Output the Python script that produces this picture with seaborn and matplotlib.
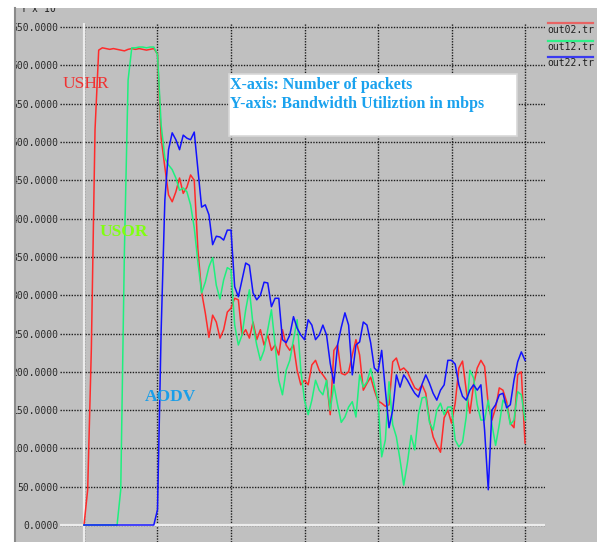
import numpy as np
import pandas as pd
import matplotlib
matplotlib.use("Agg")
import matplotlib.pyplot as plt
import seaborn as sns
from matplotlib.patches import Rectangle
from matplotlib.lines import Line2D

# sample positions along the x axis (one sample every 5 packets)
packets = np.arange(121) * 5

# bandwidth utilisation (Y x 10^-3 mbps) for each trace file
ushr = [0, 46, 230, 516, 620, 623, 622, 621, 622, 621,
        620, 619, 621, 622, 621, 622, 621, 620, 621, 622,
        615, 505, 467, 431, 422, 435, 453, 433, 441, 457,
        450, 359, 304, 277, 245, 274, 265, 244, 255, 278,
        283, 296, 294, 248, 255, 244, 265, 242, 255, 235,
        248, 228, 235, 222, 255, 235, 228, 235, 202, 183,
        189, 183, 209, 215, 202, 196, 189, 144, 228, 235,
        198, 196, 200, 222, 242, 222, 176, 185, 193, 176,
        162, 159, 155, 157, 213, 218, 202, 205, 200, 189,
        179, 176, 183, 172, 137, 115, 104, 95, 140, 150,
        133, 159, 205, 214, 176, 146, 183, 205, 215, 207,
        157, 137, 153, 179, 176, 161, 133, 127, 196, 200,
        107]

usor = [0, 0, 0, 0, 0, 0, 0, 0, 0, 0,
        46, 359, 581, 623, 623, 624, 624, 623, 624, 624,
        614, 522, 479, 470, 464, 453, 437, 440, 435, 418,
        388, 343, 303, 317, 337, 349, 313, 295, 320, 336,
        333, 261, 235, 248, 281, 307, 261, 235, 215, 228,
        255, 281, 235, 189, 170, 202, 215, 242, 268, 202,
        163, 144, 163, 189, 176, 170, 189, 150, 183, 157,
        134, 141, 154, 161, 141, 196, 180, 187, 204, 183,
        163, 89, 111, 187, 131, 115, 85, 52, 81, 117,
        98, 144, 166, 167, 134, 124, 150, 159, 144, 154,
        154, 111, 102, 108, 141, 202, 192, 157, 137, 137,
        163, 131, 104, 131, 163, 157, 131, 137, 174, 170,
        137]

aodv = [0, 0, 0, 0, 0, 0, 0, 0, 0, 0,
        0, 0, 0, 0, 0, 0, 0, 0, 0, 0,
        20, 255, 424, 490, 512, 503, 490, 509, 505, 503,
        513, 464, 415, 418, 405, 366, 377, 376, 372, 385,
        385, 311, 298, 320, 342, 339, 303, 294, 300, 317,
        316, 285, 296, 296, 242, 238, 248, 272, 257, 248,
        242, 268, 261, 242, 248, 261, 248, 211, 185, 235,
        258, 277, 261, 196, 235, 239, 265, 261, 238, 205,
        200, 228, 176, 127, 150, 196, 180, 196, 189, 180,
        172, 167, 184, 196, 185, 172, 163, 176, 183, 215,
        215, 210, 183, 168, 163, 176, 183, 176, 183, 124,
        46, 150, 157, 170, 172, 153, 157, 189, 213, 226,
        215]

trace_names = ["out02.tr", "out12.tr", "out22.tr"]
trace_colors = ["#ff2b2b", "#1ef07e", "#1212ff"]
legend_colors = ["#e86464", "#2ef088", "#3a3af0"]
protocol_labels = ["USHR", "USOR", "AODV"]
y_ticks = np.arange(0, 651, 50)
y_tick_labels = [f"{v:.4f}" for v in y_ticks]
x_grid = np.arange(0, 601, 100)

df = pd.concat([
    pd.DataFrame({"packets": packets, "bandwidth": vals, "trace": name})
    for name, vals in zip(trace_names, [ushr, usor, aodv])
], ignore_index=True)

GREY = "#c0c0c0"
W, H = 597, 542


def fx(px):
    return px / W


def fy(py):
    return 1 - py / H


fig = plt.figure(figsize=(W / 100, H / 100), dpi=100, facecolor="white")
fig.patches.append(Rectangle((fx(15), 0), 1, fy(8), transform=fig.transFigure,
                             facecolor=GREY, edgecolor="none", zorder=-10))

ax = fig.add_axes([fx(60), 0, fx(545) - fx(60), fy(23)])
ax.set_facecolor(GREY)

sns.lineplot(data=df, x="packets", y="bandwidth", hue="trace",
             hue_order=trace_names, palette=dict(zip(trace_names, trace_colors)),
             estimator=None, sort=False, legend=False, linewidth=1.1, ax=ax)

ax.set_xlim(-32.65, 627.2)
ax.set_ylim(-22.2, 655.4)
ax.set_xticks(x_grid)
ax.set_xticklabels([])
ax.set_yticks(y_ticks)
ax.set_yticklabels(y_tick_labels, family="DejaVu Sans Mono", fontsize=7, color="#2a2a2a")
ax.tick_params(length=0, pad=1)
ax.set_xlabel("")
ax.set_ylabel("")
for s in ax.spines.values():
    s.set_visible(False)
ax.set_axisbelow(True)
ax.grid(True, color="#1e1e1e", linestyle=(0, (1, 1)), linewidth=1.0)
ax.axhline(0, color="#ececec", linewidth=1.6, zorder=1.5)
ax.axvline(0, color="#ececec", linewidth=1.6, zorder=1.5)

# protocol names next to their curves
ax.text(-28.6, 576, protocol_labels[0], color="#f03232", family="Liberation Serif",
        fontsize=12.5, va="center", ha="left")
ax.text(21.8, 382, protocol_labels[1], color="#80ff10", family="Liberation Serif",
        fontsize=12.5, fontweight="bold", va="center", ha="left")
ax.text(83, 167, protocol_labels[2], color="#1a9ee8", family="Liberation Serif",
        fontsize=12.5, fontweight="bold", va="center", ha="left")

# axis description box
fig.patches.append(Rectangle((fx(229), fy(136)), fx(517) - fx(229), fy(74) - fy(136),
                             transform=fig.transFigure, facecolor="white",
                             edgecolor="#d8d8d8", linewidth=1.2, zorder=5))
fig.text(fx(230), fy(85), "X-axis: Number of packets", color="#1aa2ee",
         family="Liberation Serif", fontweight="bold", fontsize=11.5,
         va="center", ha="left", zorder=6)
fig.text(fx(230), fy(104), "Y-axis: Bandwidth Utiliztion in mbps", color="#1aa2ee",
         family="Liberation Serif", fontweight="bold", fontsize=11.5,
         va="center", ha="left", zorder=6)

# legend: coloured bar above each trace name
for name, col, ly, ty in zip(trace_names, legend_colors, [23.3, 40.7, 56.7], [30, 47.3, 62.7]):
    fig.lines.append(Line2D([fx(548), fx(593)], [fy(ly), fy(ly)], transform=fig.transFigure,
                            color=col, linewidth=1.6, zorder=6))
    fig.text(fx(547), fy(ty), name, family="DejaVu Sans Mono", fontsize=7,
             color="#202020", va="center", ha="left", zorder=6)

# y scale note
fig.text(fx(20), fy(15), "Y x 10$^{-3}$", family="DejaVu Sans Mono", fontsize=7,
         color="#202020", va="bottom", ha="left", zorder=4)

# white frame strips on the left and top
fig.patches.append(Rectangle((0, 0), fx(14), 1, transform=fig.transFigure,
                             facecolor="white", edgecolor="none", zorder=10))
fig.patches.append(Rectangle((0, fy(8)), 1, 1 - fy(8), transform=fig.transFigure,
                             facecolor="white", edgecolor="none", zorder=10))
fig.lines.append(Line2D([fx(15), fx(15)], [0, fy(8)], transform=fig.transFigure,
                        color="#8a8a8a", linewidth=1.5, zorder=11))

fig.savefig("out.png", dpi=100, facecolor="white")
